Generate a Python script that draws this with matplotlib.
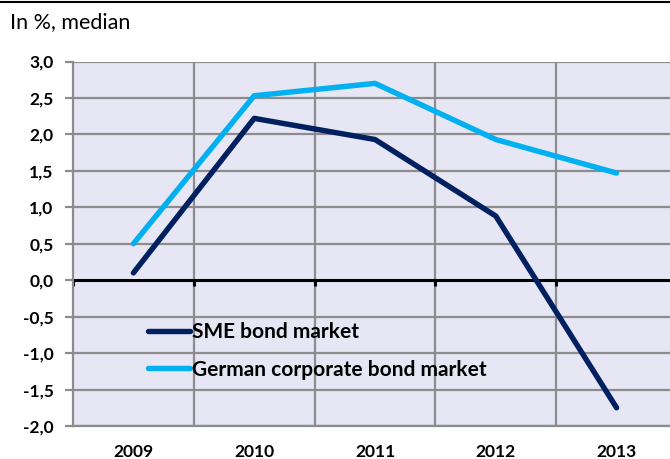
import matplotlib
matplotlib.use("Agg")
import matplotlib.pyplot as plt
from matplotlib.lines import Line2D

years = ["2009", "2010", "2011", "2012", "2013"]
sme = [0.10, 2.22, 1.93, 0.88, -1.75]
german = [0.50, 2.53, 2.70, 1.93, 1.47]
yticks = [3.0, 2.5, 2.0, 1.5, 1.0, 0.5, 0.0, -0.5, -1.0, -1.5, -2.0]

plt.rcParams['font.family'] = ['Lato', 'DejaVu Sans']

fig = plt.figure(figsize=(6.7, 4.59), dpi=100)
ax = fig.add_axes([73/670, 1-426/459, 604/670, (426-61.5)/459])
ax.set_facecolor('#e6e6f4')

x = list(range(len(years)))
ax.set_xlim(-0.5, len(years) - 0.5)
ax.set_ylim(-2.0, 3.0)

grid_c = '#8c8c8c'
for y in yticks:
    if y != 0:
        ax.axhline(y, color=grid_c, lw=1.6, zorder=1)
for b in [i + 0.5 for i in x[:-1]]:
    ax.axvline(b, color=grid_c, lw=1.6, zorder=1)
ax.axhline(0, color='black', lw=2.2, zorder=2)
bounds = [i - 0.5 for i in x] + [x[-1] + 0.5]
ax.vlines(bounds, -0.08, 0, color='black', lw=2.2, zorder=2)

ax.plot(x, sme, color='#002060', lw=3.9, solid_capstyle='round', zorder=3, label='SME bond market')
ax.plot(x, german, color='#00b0f0', lw=3.9, solid_capstyle='round', zorder=3, label='German corporate bond market')

for s in ['top', 'right']:
    ax.spines[s].set_visible(False)
ax.spines['left'].set_color(grid_c)
ax.spines['left'].set_linewidth(1.6)
ax.spines['bottom'].set_color(grid_c)
ax.spines['bottom'].set_linewidth(1.6)

ax.set_yticks(yticks)
ax.set_yticklabels([f"{v:.1f}".replace('.', ',') for v in yticks], fontsize=12.5, fontweight='bold')
ax.tick_params(axis='y', length=6, width=1.6, color=grid_c, pad=8)
ax.set_xticks(x)
ax.set_xticklabels(years, fontsize=12.5, fontweight='bold')
ax.tick_params(axis='x', length=0, pad=13)

leg = ax.legend(loc='upper left', bbox_to_anchor=((148-73)/604, (426-322)/364.5), frameon=False,
                prop={'size': 15, 'weight': 'bold'}, handlelength=2.0, handletextpad=0.1,
                labelspacing=0.85, borderpad=0, borderaxespad=0)

fig.text(10/670, 1-22/459, "In %, median", fontsize=15.5, va='center', ha='left')
fig.add_artist(Line2D([0, 1], [1-2/459, 1-2/459], color='black', lw=1.5, transform=fig.transFigure))

fig.savefig('out.png', dpi=100)
